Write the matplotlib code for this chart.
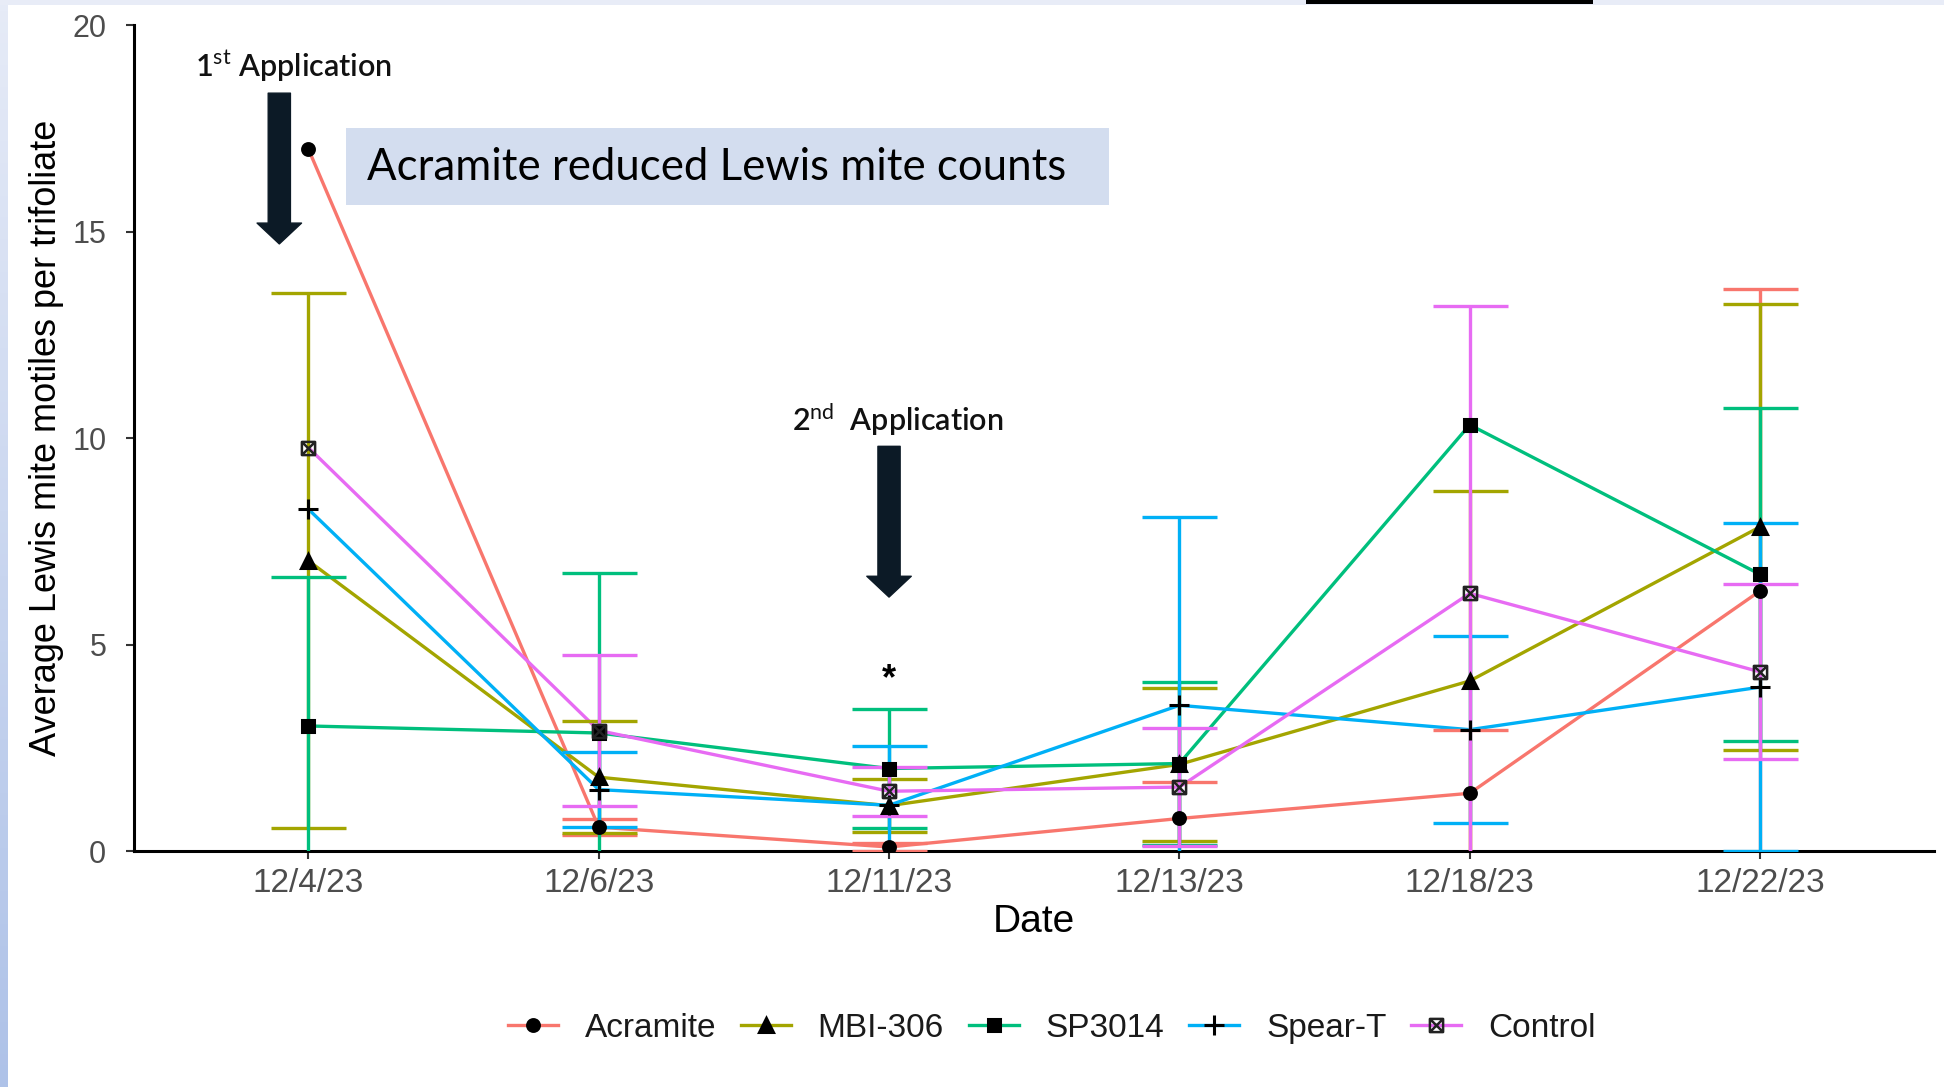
import numpy as np
import matplotlib.pyplot as plt
from matplotlib.path import Path
from matplotlib.lines import Line2D
from matplotlib.patches import Rectangle

plt.rcParams['font.family'] = ['Liberation Sans', 'DejaVu Sans']
plt.rcParams['mathtext.fontset'] = 'custom'
plt.rcParams['mathtext.rm'] = 'Lato'

nan = np.nan

# data (mean and standard error per date)
dates = ["12/4/23", "12/6/23", "12/11/23", "12/13/23", "12/18/23", "12/22/23"]
treatments = ["Acramite", "MBI-306", "SP3014", "Spear-T", "Control"]

acramite = [17.0, 0.58, 0.10, 0.79, 1.40, 6.30]
acramite_se = [nan, 0.20, 0.10, 0.89, 1.54, 7.30]
mbi306 = [7.03, 1.79, 1.10, 2.10, 4.12, 7.85]
mbi306_se = [6.48, 1.36, 0.64, 1.85, 4.60, 5.39]
sp3014 = [3.03, 2.86, 2.00, 2.12, 10.32, 6.70]
sp3014_se = [3.60, 3.88, 1.43, 1.98, nan, 4.03]
speart = [8.28, 1.49, 1.11, 3.53, 2.94, 3.97]
speart_se = [nan, 0.91, 1.43, 4.56, 2.27, 3.97]
control = [9.77, 2.92, 1.45, 1.55, 6.24, 4.34]
control_se = [nan, 1.83, 0.59, 1.43, 6.95, 2.12]

means = [acramite, mbi306, sp3014, speart, control]
ses = [acramite_se, mbi306_se, sp3014_se, speart_se, control_se]
colors = ['#F8766D', '#A3A500', '#00BF7D', '#00B0F6', '#E76BF3']

# square with an X for the control marker
box_x = Path([(-1, -1), (1, -1), (1, 1), (-1, 1), (-1, -1),
              (-1, -1), (1, 1), (-1, 1), (1, -1)],
             [Path.MOVETO, Path.LINETO, Path.LINETO, Path.LINETO, Path.CLOSEPOLY,
              Path.MOVETO, Path.LINETO, Path.MOVETO, Path.LINETO])
markers = ['o', '^', 's', '+', box_x]
msizes = [8.5, 9.5, 8.5, 15, 9.5]

fig = plt.figure(figsize=(19.44, 10.87), dpi=100)
ax = fig.add_axes([0.069, 0.217, 0.926, 0.760])

x = np.arange(1, len(dates) + 1)

for m, s, c in zip(means, ses, colors):
    ax.plot(x, m, color=c, lw=2.4, zorder=2)
for m, s, c in zip(means, ses, colors):
    m = np.array(m)
    s = np.array(s)
    ok = ~np.isnan(s)
    ax.errorbar(x[ok], m[ok], yerr=s[ok], fmt='none', ecolor=c, elinewidth=2.4,
                capsize=27, capthick=2.4, zorder=3)
for m, mk, ms in zip(means, markers, msizes):
    if mk is box_x:
        ax.plot(x, m, ls='none', marker=mk, ms=ms, mfc='none', mec='#222222', mew=1.8, zorder=4)
    else:
        ax.plot(x, m, ls='none', marker=mk, ms=ms, color='black', mew=2.2, zorder=4)

ax.set_xlim(0.4, 6.6)
ax.set_ylim(0, 20)
ax.set_xticks(x)
ax.set_xticklabels(dates)
ax.set_yticks([0, 5, 10, 15, 20])
ax.tick_params(axis='both', labelcolor='#4D4D4D', length=6, width=1.5, color='#333333')
ax.tick_params(axis='x', labelsize=24, pad=6)
ax.tick_params(axis='y', labelsize=22, pad=14)
for sp in ['top', 'right']:
    ax.spines[sp].set_visible(False)
for sp in ['left', 'bottom']:
    ax.spines[sp].set_linewidth(2.2)
ax.set_xlabel('Date', fontsize=28, labelpad=4)
ax.set_ylabel('Average Lewis mite motiles per trifoliate', fontsize=26, labelpad=6)

# annotations
arrow_style = 'simple,head_length=0.75,head_width=1.6,tail_width=0.8'
ax.annotate('', xy=(0.90, 14.7), xytext=(0.90, 18.35),
            arrowprops=dict(arrowstyle=arrow_style, color='#0C1A26', shrinkA=0, shrinkB=0,
                            mutation_scale=20))
ax.annotate('', xy=(3.0, 6.15), xytext=(3.0, 9.8),
            arrowprops=dict(arrowstyle=arrow_style, color='#0C1A26', shrinkA=0, shrinkB=0,
                            mutation_scale=20))
ax.text(0.95, 19.0, r'1$^{\mathrm{st}}$ Application', family='Lato', fontsize=22,
        fontweight='semibold', ha='center', va='center', color='#111111')
ax.text(3.03, 10.45, r'2$^{\mathrm{nd}}$  Application', family='Lato', fontsize=22,
        fontweight='semibold', ha='center', va='center', color='#111111')
ax.text(3.0, 4.15, '*', fontsize=26, fontweight='bold', ha='center', va='center')

fig.patches.append(Rectangle((346 / 1944, 1 - 205 / 1087), 763 / 1944, 77 / 1087,
                             transform=fig.transFigure, facecolor='#D3DDEF', edgecolor='none', zorder=5))
fig.text(367 / 1944, 1 - 167 / 1087, 'Acramite reduced Lewis mite counts', family='Lato',
         fontsize=31.5, va='center', ha='left', color='black', zorder=6)

# legend
handles = []
for c, mk, ms, name in zip(colors, markers, msizes, treatments):
    if mk is box_x:
        h = Line2D([], [], color=c, lw=2.4, marker=mk, ms=ms, mfc='none', mec='#222222', mew=1.8)
    else:
        h = Line2D([], [], color=c, lw=2.4, marker=mk, ms=ms, mfc='black', mec='black', mew=2.2)
    handles.append(h)
fig.legend(handles, treatments, loc='center', bbox_to_anchor=(0.541, 0.054), ncol=5,
           frameon=False, fontsize=24, handlelength=1.5, columnspacing=0.75, handletextpad=0.8,
           labelcolor='#1A1A1A')

# slide remnants: top band, left band, title underline
fig.patches.append(Rectangle((0, 1 - 5 / 1087), 1, 5 / 1087, transform=fig.transFigure,
                             facecolor='#E8ECF7', edgecolor='none'))
band = fig.add_axes([0, 0, 7 / 1944, 1])
band.imshow(np.linspace(0, 1, 100).reshape(-1, 1), aspect='auto', cmap=plt.matplotlib.colors.LinearSegmentedColormap.from_list('b', ['#E6EBF7', '#AEC2E8']))
band.axis('off')
fig.patches.append(Rectangle((1306 / 1944, 1 - 4 / 1087), 287 / 1944, 4 / 1087, transform=fig.transFigure,
                             facecolor='black', edgecolor='none'))

fig.savefig('out.png', dpi=100)
